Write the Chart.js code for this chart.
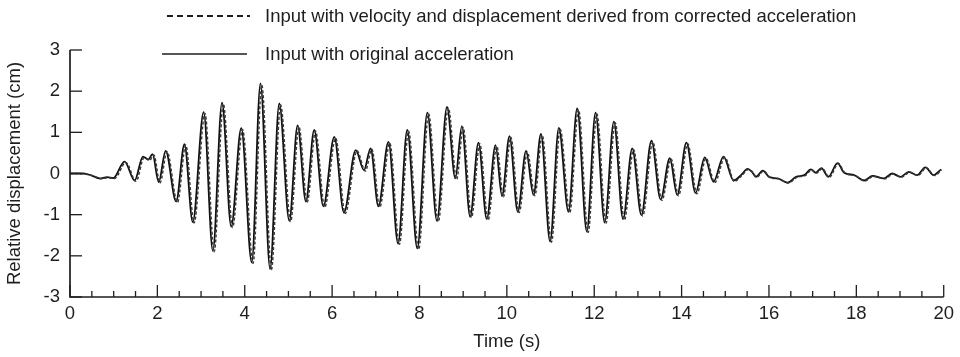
<!DOCTYPE html>
<html>
<head>
<meta charset="utf-8">
<script src="https://cdn.jsdelivr.net/npm/chart.js@4.4.1/dist/chart.umd.min.js"></script>
<style>
  html, body { margin: 0; padding: 0; background: #fff; }
  #wrap { width: 960px; height: 357px; position: relative; }
</style>
</head>
<body>
<div id="wrap"><canvas id="c" width="960" height="357"></canvas></div>
<script>
// ---- data (time in s, displacement in cm) ----
const timeOriginal = [0, 0.3, 0.5, 0.68, 0.85, 0.99, 1.25, 1.48, 1.67, 1.79, 1.89, 2.03, 2.19, 2.43, 2.62, 2.81,
  3.06, 3.27, 3.48, 3.69, 3.92, 4.16, 4.36, 4.58, 4.79, 5.02, 5.21, 5.40, 5.59, 5.80, 6.05, 6.27, 6.54, 6.73,
  6.88, 7.06, 7.29, 7.51, 7.72, 7.95, 8.18, 8.40, 8.63, 8.82, 8.97, 9.16, 9.35, 9.54, 9.74, 9.89, 10.06, 10.25,
  10.44, 10.61, 10.78, 10.99, 11.19, 11.41, 11.61, 11.83, 12.03, 12.24, 12.45, 12.66, 12.87, 13.08, 13.31, 13.52,
  13.73, 13.90, 14.11, 14.32, 14.53, 14.73, 14.96, 15.19, 15.36, 15.51, 15.61, 15.70, 15.86, 16.01, 16.20, 16.43,
  16.62, 16.81, 16.96, 17.07, 17.20, 17.36, 17.57, 17.72, 17.95, 18.18, 18.37, 18.63, 18.82, 19.01, 19.20, 19.39,
  19.58, 19.77, 19.94];
const dispOriginal = [0, 0.0, -0.05, -0.12, -0.09, -0.11, 0.29, -0.17, 0.41, 0.34, 0.47, -0.21, 0.55, -0.68, 0.71, -1.18,
  1.49, -1.88, 1.72, -1.29, 1.10, -2.16, 2.19, -2.32, 1.70, -1.15, 1.17, -0.68, 1.06, -0.80, 0.89, -0.95, 0.57, 0.08,
  0.61, -0.80, 0.77, -1.70, 1.06, -1.82, 1.48, -1.15, 1.62, -0.12, 1.15, -1.05, 0.75, -1.11, 0.69, -0.55, 0.91, -0.93,
  0.55, -0.52, 0.96, -1.65, 1.11, -0.93, 1.58, -1.41, 1.48, -1.19, 1.26, -1.11, 0.61, -1.01, 0.80, -0.63,
  0.37, -0.52, 0.75, -0.47, 0.39, -0.20, 0.41, -0.17, -0.04, 0.11, 0.04, -0.08, 0.07, -0.09, -0.12, -0.22,
  -0.08, -0.04, 0.10, 0.02, 0.13, -0.08, 0.25, 0.02, -0.04, -0.17, -0.06, -0.12, 0.00, -0.08, 0.04, -0.04,
  0.15, -0.04, 0.10];
const timeCorrected = [0, 0.33, 0.53, 0.71, 0.88, 1.02, 1.28, 1.51, 1.70, 1.82, 1.92, 2.06, 2.22, 2.46, 2.65, 2.84,
  3.09, 3.30, 3.51, 3.72, 3.95, 4.19, 4.39, 4.61, 4.82, 5.05, 5.24, 5.43, 5.62, 5.83, 6.08, 6.30, 6.57, 6.76,
  6.91, 7.09, 7.32, 7.54, 7.75, 7.98, 8.21, 8.43, 8.66, 8.85, 9.00, 9.19, 9.38, 9.57, 9.77, 9.92, 10.09, 10.28,
  10.47, 10.64, 10.81, 11.02, 11.22, 11.44, 11.64, 11.86, 12.06, 12.27, 12.48, 12.69, 12.90, 13.11, 13.34, 13.55,
  13.76, 13.93, 14.14, 14.35, 14.56, 14.76, 14.99, 15.21, 15.38, 15.53, 15.63, 15.72, 15.88, 16.03, 16.22, 16.45,
  16.64, 16.83, 16.98, 17.09, 17.22, 17.38, 17.59, 17.74, 17.97, 18.20, 18.39, 18.65, 18.84, 19.03, 19.22, 19.41,
  19.60, 19.79, 19.95];
const dispCorrected = [0, -0.01, -0.06, -0.13, -0.10, -0.12, 0.27, -0.19, 0.39, 0.32, 0.45, -0.23, 0.53, -0.70, 0.69, -1.20,
  1.46, -1.90, 1.69, -1.31, 1.07, -2.18, 2.15, -2.34, 1.67, -1.17, 1.14, -0.70, 1.03, -0.82, 0.86, -0.97, 0.55, 0.06,
  0.59, -0.82, 0.74, -1.72, 1.03, -1.84, 1.45, -1.17, 1.59, -0.14, 1.12, -1.07, 0.72, -1.13, 0.66, -0.57, 0.88, -0.95,
  0.52, -0.54, 0.93, -1.67, 1.08, -0.95, 1.55, -1.43, 1.45, -1.21, 1.23, -1.13, 0.58, -1.03, 0.77, -0.65,
  0.35, -0.54, 0.72, -0.49, 0.37, -0.22, 0.39, -0.19, -0.05, 0.10, 0.03, -0.09, 0.06, -0.10, -0.13, -0.23,
  -0.09, -0.05, 0.09, 0.01, 0.12, -0.09, 0.24, 0.01, -0.05, -0.18, -0.07, -0.13, -0.01, -0.09, 0.03, -0.05,
  0.14, -0.05, 0.09];
const xTickLabels = [0, 2, 4, 6, 8, 10, 12, 14, 16, 18, 20];
const yTickLabels = [-3, -2, -1, 0, 1, 2, 3];
const legendLabels = ['Input with velocity and displacement derived from corrected acceleration',
                      'Input with original acceleration'];

const FONT = "'Liberation Sans', Arial, Helvetica, sans-serif";
const FSIZE = 18.5;
const INK = '#1e1e1e';

function pts(xs, ys) { return xs.map((x, i) => ({ x: x, y: ys[i] })); }

const axesPlugin = {
  id: 'axesPlugin',
  afterDraw(chart) {
    const ctx = chart.ctx;
    const a = chart.chartArea;
    const xs = chart.scales.x, ys = chart.scales.y;
    ctx.save();
    ctx.strokeStyle = INK;
    ctx.lineWidth = 1.7;
    ctx.setLineDash([]);
    // axis lines
    ctx.beginPath();
    ctx.moveTo(a.left, a.top);
    ctx.lineTo(a.left, a.bottom);
    ctx.lineTo(a.right, a.bottom);
    ctx.stroke();
    // x ticks: minor every 0.5, major at labels
    ctx.lineWidth = 1.3;
    for (let v = xs.min; v <= xs.max + 1e-9; v += 0.5) {
      const px = xs.getPixelForValue(v);
      const major = xTickLabels.includes(Math.round(v * 100) / 100);
      ctx.beginPath();
      ctx.moveTo(px, a.bottom);
      ctx.lineTo(px, a.bottom - (major ? 12 : 6));
      ctx.stroke();
    }
    yTickLabels.forEach(v => {
      const py = ys.getPixelForValue(v);
      ctx.beginPath();
      ctx.moveTo(a.left, py);
      ctx.lineTo(a.left + 12, py);
      ctx.stroke();
    });
    // legend
    ctx.font = FSIZE + 'px ' + FONT;
    ctx.fillStyle = INK;
    ctx.textBaseline = 'middle';
    ctx.textAlign = 'left';
    ctx.lineWidth = 2;
    ctx.setLineDash([6, 4]);
    ctx.beginPath();
    ctx.moveTo(167, 16);
    ctx.lineTo(250, 16);
    ctx.stroke();
    ctx.fillText(legendLabels[0], 265, 17);
    ctx.setLineDash([]);
    ctx.lineWidth = 1.7;
    ctx.beginPath();
    ctx.moveTo(162, 54);
    ctx.lineTo(247, 54);
    ctx.stroke();
    ctx.fillText(legendLabels[1], 265, 55);
    ctx.restore();
  }
};

new Chart(document.getElementById('c'), {
  type: 'line',
  data: {
    datasets: [
      {
        label: legendLabels[0],
        data: pts(timeCorrected, dispCorrected),
        borderColor: '#3a3a3a',
        borderWidth: 1.5,
        borderDash: [3, 2],
        pointRadius: 0,
        cubicInterpolationMode: 'monotone',
        fill: false
      },
      {
        label: legendLabels[1],
        data: pts(timeOriginal, dispOriginal),
        borderColor: '#111111',
        borderWidth: 1.8,
        pointRadius: 0,
        cubicInterpolationMode: 'monotone',
        fill: false
      }
    ]
  },
  options: {
    responsive: false,
    animation: false,
    devicePixelRatio: 1,
    layout: { padding: { top: 50, right: 13, left: 0, bottom: 0 } },
    plugins: { legend: { display: false }, tooltip: { enabled: false } },
    scales: {
      x: {
        type: 'linear',
        min: 0, max: 20,
        afterFit(s) { s.height = 60; },
        afterBuildTicks(s) { s.ticks = xTickLabels.map(v => ({ value: v })); },
        grid: { display: false, drawTicks: false },
        border: { display: false },
        ticks: { color: INK, font: { family: FONT, size: FSIZE }, padding: 6, maxRotation: 0, autoSkip: false },
        title: { display: true, text: 'Time (s)', color: INK, font: { family: FONT, size: FSIZE }, padding: { top: 0, bottom: 4 } }
      },
      y: {
        min: -3, max: 3,
        afterFit(s) { s.width = 70; },
        afterBuildTicks(s) { s.ticks = yTickLabels.map(v => ({ value: v })); },
        grid: { display: false, drawTicks: false },
        border: { display: false },
        ticks: { color: INK, font: { family: FONT, size: FSIZE }, padding: 10 },
        title: { display: true, text: 'Relative displacement (cm)', color: INK, font: { family: FONT, size: FSIZE }, padding: { top: 4, bottom: 0 } }
      }
    }
  },
  plugins: [axesPlugin]
});
</script>
</body>
</html>
